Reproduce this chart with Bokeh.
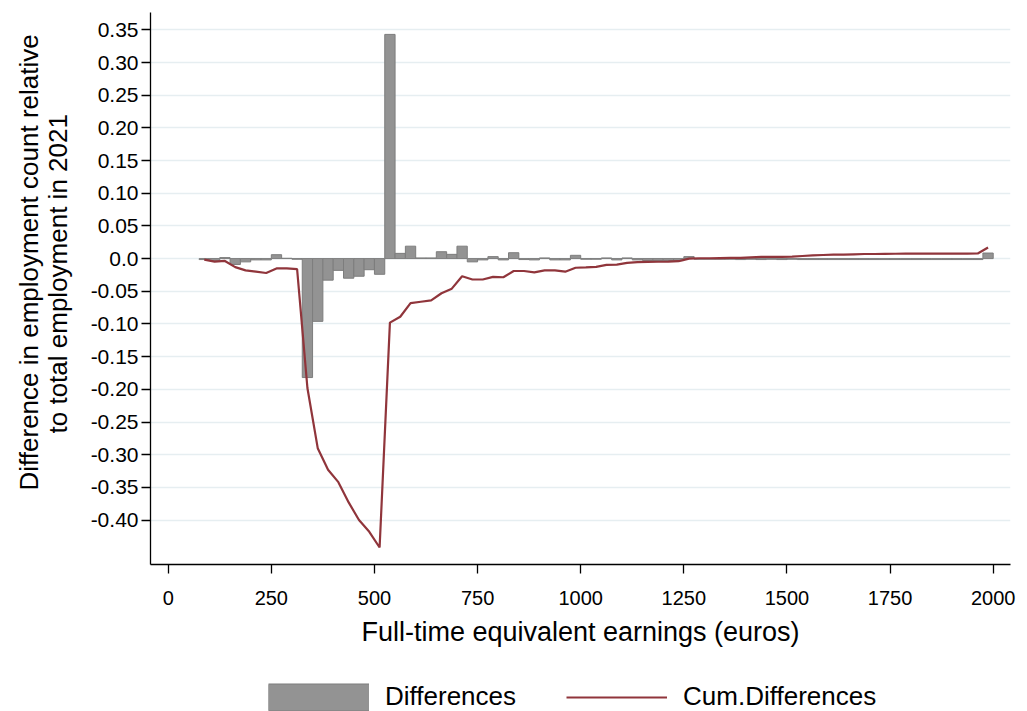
from bokeh.plotting import figure
from bokeh.layouts import column
from bokeh.models import Range1d, FixedTicker, Legend, LegendItem, Title
from bokeh.embed import file_html
from bokeh.resources import INLINE

# Bin centres (euros), bin width 25
earnings = [87.5, 112.5, 137.5, 162.5, 187.5, 212.5, 237.5, 262.5, 287.5, 312.5,
            337.5, 362.5, 387.5, 412.5, 437.5, 462.5, 487.5, 512.5, 537.5, 562.5,
            587.5, 612.5, 637.5, 662.5, 687.5, 712.5, 737.5, 762.5, 787.5, 812.5,
            837.5, 862.5, 887.5, 912.5, 937.5, 962.5, 987.5, 1012.5, 1037.5, 1062.5,
            1087.5, 1112.5, 1137.5, 1162.5, 1187.5, 1212.5, 1237.5, 1262.5, 1287.5, 1312.5,
            1337.5, 1362.5, 1387.5, 1412.5, 1437.5, 1462.5, 1487.5, 1512.5, 1537.5, 1562.5,
            1587.5, 1612.5, 1637.5, 1662.5, 1687.5, 1712.5, 1737.5, 1762.5, 1787.5, 1812.5,
            1837.5, 1862.5, 1887.5, 1912.5, 1937.5, 1962.5, 1987.5]

differences = [-0.0015, -0.003, 0.0015, -0.009, -0.005, -0.002, -0.002, 0.006, 0.0005, -0.001,
               -0.182, -0.096, -0.033, -0.018, -0.030, -0.027, -0.017, -0.024, 0.343, 0.008,
               0.019, 0.001, 0.001, 0.0105, 0.0065, 0.019, -0.005, -0.002, 0.003, -0.002,
               0.009, -0.0015, -0.002, 0.001, -0.002, -0.002, 0.005, -0.001, -0.001, 0.001,
               -0.002, 0.001, -0.002, -0.003, -0.003, -0.003, -0.003, 0.003, -0.001, -0.001,
               -0.001, -0.001, -0.0015, -0.001, -0.0015, -0.001, -0.0015, -0.001, -0.0015, -0.0015,
               -0.0015, -0.0015, -0.0015, -0.0015, -0.0015, -0.0015, -0.0015, -0.0015, -0.0015, -0.0015,
               -0.0015, -0.0015, -0.0015, -0.0015, -0.0015, -0.0015, 0.0085]

cum_differences = [-0.0015, -0.0046, -0.0036, -0.013, -0.018, -0.020, -0.022, -0.015, -0.015, -0.016,
                   -0.198, -0.290, -0.323, -0.342, -0.373, -0.400, -0.418, -0.442, -0.098, -0.089,
                   -0.068, -0.066, -0.064, -0.053, -0.046, -0.027, -0.032, -0.032, -0.028, -0.0285,
                   -0.019, -0.019, -0.021, -0.018, -0.018, -0.020, -0.014, -0.0135, -0.0127, -0.0097,
                   -0.0092, -0.0065, -0.0055, -0.005, -0.0048, -0.0045, -0.004, 0.0, 0.0005, 0.0005,
                   0.0008, 0.001, 0.001, 0.002, 0.0025, 0.0025, 0.0025, 0.003, 0.004, 0.005,
                   0.0055, 0.006, 0.006, 0.0065, 0.007, 0.007, 0.0072, 0.0074, 0.0075, 0.0075,
                   0.0076, 0.0077, 0.0077, 0.0077, 0.0077, 0.0078, 0.017]

x_ticks = [0, 250, 500, 750, 1000, 1250, 1500, 1750, 2000]
y_ticks = [0.35, 0.30, 0.25, 0.20, 0.15, 0.10, 0.05, 0.0,
           -0.05, -0.10, -0.15, -0.20, -0.25, -0.30, -0.35, -0.40]
y_tick_labels = ["0.35", "0.30", "0.25", "0.20", "0.15", "0.10", "0.05", "0.0",
                 "-0.05", "-0.10", "-0.15", "-0.20", "-0.25", "-0.30", "-0.35", "-0.40"]
legend_labels = ["Differences", "Cum.Differences"]
y_title_lines = ["Difference in employment count relative", "to total employment in 2021"]
x_title = "Full-time equivalent earnings (euros)"

FONT = "Liberation Sans"
BAR_FILL = "#939393"
BAR_LINE = "#7d7d7d"
RED = "#90353b"
NAN = float("nan")

p = figure(width=1020, height=649, output_backend="svg", toolbar_location=None,
           x_range=Range1d(-42.9, 2041.9), y_range=Range1d(-0.468, 0.3765),
           min_border_left=150, min_border_right=10, min_border_top=12, min_border_bottom=83)
p.outline_line_color = None
p.background_fill_color = "white"
p.border_fill_color = "white"

bars = p.vbar(x=earnings, top=differences, bottom=0, width=25,
              fill_color=BAR_FILL, line_color=BAR_LINE, line_width=1)
line = p.line(x=earnings, y=cum_differences, line_color=RED, line_width=2.2)

for ax in (p.xaxis[0], p.yaxis[0]):
    ax.axis_line_color = "black"
    ax.axis_line_width = 1.3
    ax.major_tick_line_color = "black"
    ax.major_tick_line_width = 1.3
    ax.major_tick_out = 9
    ax.major_tick_in = 0
    ax.minor_tick_line_color = None
    ax.major_label_text_font = FONT
    ax.major_label_text_font_size = "20px"
    ax.major_label_text_color = "black"
    ax.axis_label_text_font = FONT
    ax.axis_label_text_font_style = "normal"
    ax.axis_label_text_color = "black"

p.yaxis.major_label_text_font_size = "21px"
p.xaxis.ticker = FixedTicker(ticks=x_ticks)
p.yaxis.ticker = FixedTicker(ticks=y_ticks)
p.yaxis.major_label_overrides = {t: s for t, s in zip(y_ticks, y_tick_labels)}
p.yaxis.major_label_orientation = "horizontal"
p.xaxis.major_label_standoff = 17
p.yaxis.major_label_standoff = 3
p.xaxis.axis_label = x_title
p.xaxis.axis_label_text_font_size = "27px"
p.xaxis.axis_label_standoff = 9

# two-line y title, placed as side titles so it can sit off-centre like the reference
t2 = Title(text=y_title_lines[1], align="left", offset=131, standoff=26,
           vertical_align="top", text_font=FONT, text_font_size="26px",
           text_font_style="normal", text_color="black")
t1 = Title(text=y_title_lines[0], align="left", offset=74, standoff=-30,
           vertical_align="middle", text_font=FONT, text_font_size="26px",
           text_font_style="normal", text_color="black")
p.add_layout(t2, "left")
p.add_layout(t1, "left")

p.xgrid.visible = False
p.ygrid.grid_line_color = "#e6eef1"
p.ygrid.grid_line_width = 1.5

# legend strip below the plot
p2 = figure(width=1020, height=62, output_backend="svg", toolbar_location=None,
            x_range=Range1d(0, 1), y_range=Range1d(0, 1), min_border=0)
p2.xaxis.visible = False
p2.yaxis.visible = False
p2.grid.visible = False
p2.outline_line_color = None
p2.background_fill_color = "white"
p2.border_fill_color = "white"
key_edge = p2.line(x=[NAN], y=[NAN], line_color=BAR_LINE, line_width=28)
key_bar = p2.line(x=[NAN], y=[NAN], line_color=BAR_FILL, line_width=26)
key_line = p2.line(x=[NAN], y=[NAN], line_color=RED, line_width=2.2)

legend = Legend(items=[LegendItem(label=legend_labels[0], renderers=[key_edge, key_bar]),
                       LegendItem(label=legend_labels[1], renderers=[key_line])],
                location=(118, -1), orientation="horizontal",
                glyph_width=101, glyph_height=30, label_standoff=16, spacing=50,
                padding=0, margin=0, border_line_color=None, background_fill_alpha=0,
                label_text_font=FONT, label_text_font_size="26px", label_text_color="black")
p2.add_layout(legend)

layout = column(p, p2, spacing=0)
open("out.html", "w").write(file_html(layout, INLINE))
